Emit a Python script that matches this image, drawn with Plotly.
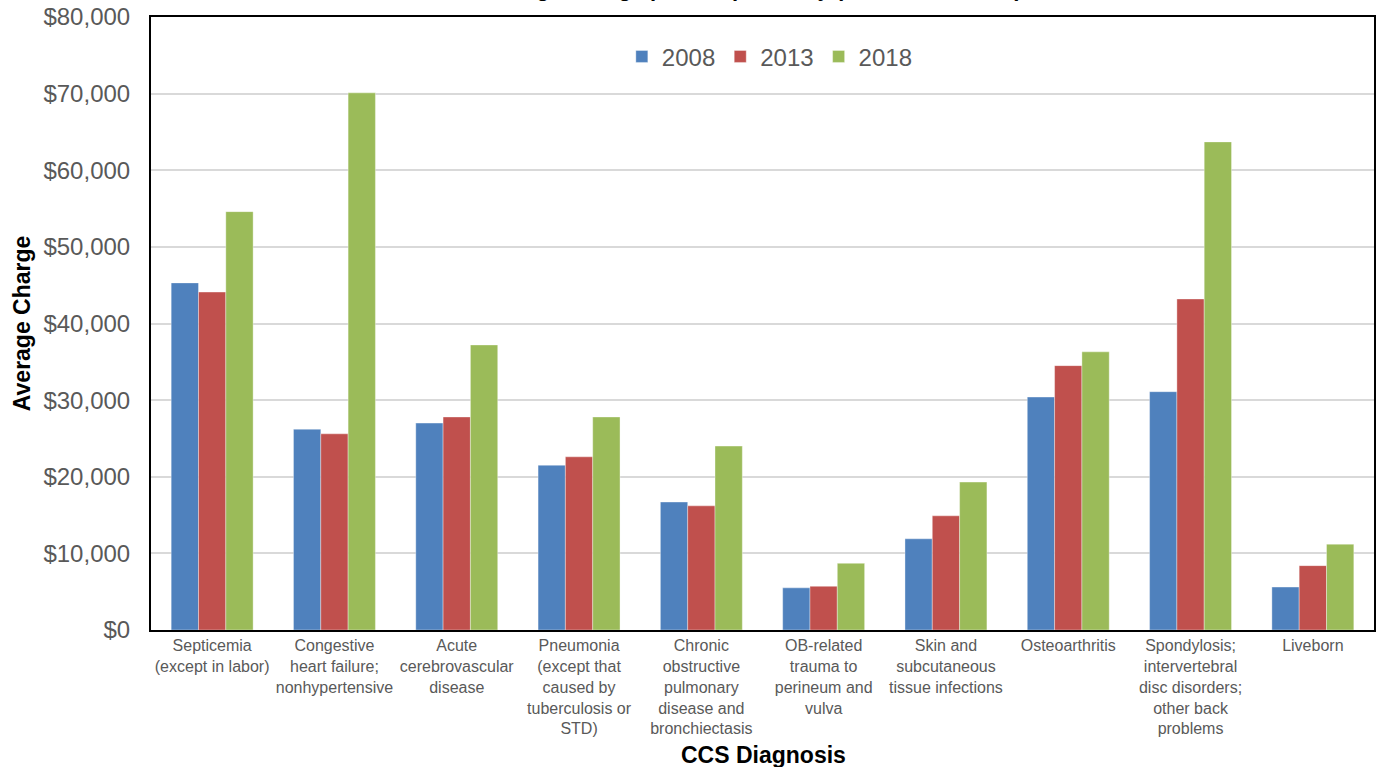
import plotly.graph_objects as go

categories = [
    "Septicemia<br>(except in labor)",
    "Congestive<br>heart failure;<br>nonhypertensive",
    "Acute<br>cerebrovascular<br>disease",
    "Pneumonia<br>(except that<br>caused by<br>tuberculosis or<br>STD)",
    "Chronic<br>obstructive<br>pulmonary<br>disease and<br>bronchiectasis",
    "OB-related<br>trauma to<br>perineum and<br>vulva",
    "Skin and<br>subcutaneous<br>tissue infections",
    "Osteoarthritis",
    "Spondylosis;<br>intervertebral<br>disc disorders;<br>other back<br>problems",
    "Liveborn",
]
series_names = ["2008", "2013", "2018"]
values_2008 = [45300, 26200, 27000, 21500, 16700, 5500, 11900, 30400, 31100, 5600]
values_2013 = [44100, 25600, 27800, 22600, 16200, 5700, 14900, 34500, 43200, 8400]
values_2018 = [54600, 70100, 37200, 27800, 24000, 8700, 19300, 36300, 63700, 11200]
colors = ["#4f81bd", "#c0504d", "#9bbb59"]
y_ticks = [0, 10000, 20000, 30000, 40000, 50000, 60000, 70000, 80000]
y_tick_labels = ["$0", "$10,000", "$20,000", "$30,000", "$40,000", "$50,000", "$60,000", "$70,000", "$80,000"]

FONT = "Liberation Sans, Arial, sans-serif"

fig = go.Figure()
for name, vals, col in zip(series_names, [values_2008, values_2013, values_2018], colors):
    fig.add_trace(go.Bar(
        x=categories, y=vals, name=name,
        marker=dict(color=col, line=dict(color="rgba(255,255,255,0.6)", width=0.6)),
    ))

fig.update_layout(
    width=1379, height=767,
    margin=dict(l=151, r=3, t=17, b=137),
    paper_bgcolor="white", plot_bgcolor="white",
    barmode="group", bargap=0.33, bargroupgap=0,
    font=dict(family=FONT, color="#595959"),
    showlegend=True,
    legend=dict(orientation="h", x=0.506, xanchor="center", y=0.935, yanchor="middle",
                font=dict(size=24, color="#595959"), bgcolor="rgba(0,0,0,0)",
                itemwidth=30, traceorder="normal"),
    xaxis=dict(
        showline=True, linecolor="black", linewidth=2, mirror=True,
        tickfont=dict(size=16, color="#595959"), ticks="", tickangle=0,
        showgrid=False,
    ),
    yaxis=dict(
        range=[0, 80000], tickvals=y_ticks, ticktext=y_tick_labels,
        showline=True, linecolor="black", linewidth=2, mirror=True,
        showgrid=True, gridcolor="#d9d9d9", gridwidth=2,
        tickfont=dict(size=24, color="#595959"), ticks="",
        ticklabelstandoff=14, zeroline=False,
    ),
    annotations=[
        dict(text="<b>Average Charge</b>", xref="paper", yref="paper",
             x=-151/1225 + 22/1225, y=1 - (323 - 17) / 613, textangle=-90,
             showarrow=False, font=dict(size=23, color="black", family=FONT),
             xanchor="center", yanchor="middle"),
        dict(text="<b>CCS Diagnosis</b>", xref="paper", yref="paper",
             x=(765 - 151) / 1225, y=-(755 - 630) / 613,
             showarrow=False, font=dict(size=23, color="black", family=FONT),
             xanchor="center", yanchor="middle"),
        dict(text="<b>Average Charge per Hospital Stay (2008, 2013, 2018)</b>",
             xref="paper", yref="paper",
             x=(750 - 151) / 1225, y=1 + 14 / 613,
             showarrow=False, font=dict(size=22, color="black", family=FONT),
             xanchor="center", yanchor="bottom"),
    ],
)

fig.write_html("out.html")
